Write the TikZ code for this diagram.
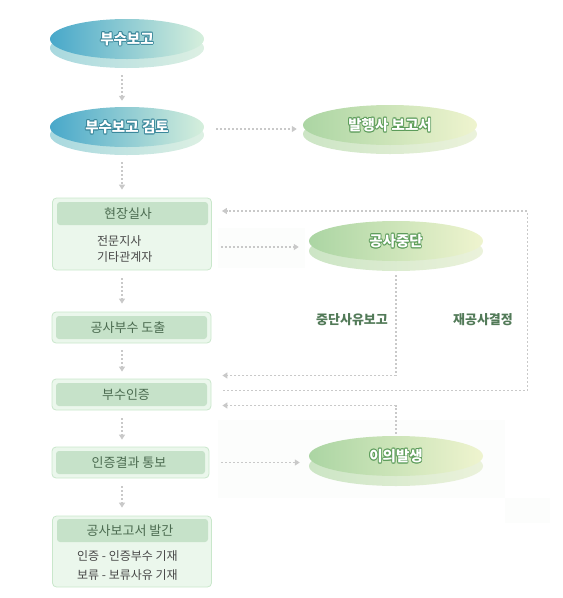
\documentclass[tikz,border=0pt]{standalone}
\usepackage{fontspec}
\setmainfont{Noto Sans CJK KR}
\usetikzlibrary{shapes.geometric,arrows.meta,calc}
\definecolor{tealA}{HTML}{48A8CA}
\definecolor{tealB}{HTML}{D6EFDC}
\definecolor{tealshA}{HTML}{A8D8DF}
\definecolor{tealshB}{HTML}{DDF0E3}
\definecolor{tealout}{HTML}{3A879B}
\definecolor{grnA}{HTML}{ABD5A3}
\definecolor{grnB}{HTML}{EFF4CF}
\definecolor{grnshA}{HTML}{CCE5C5}
\definecolor{grnshB}{HTML}{EBF2DB}
\definecolor{grnout}{HTML}{5C9C5A}
\definecolor{boxfill}{HTML}{EBF7EC}
\definecolor{boxdraw}{HTML}{C9E7CB}
\definecolor{hdrfill}{HTML}{C6E2C9}
\definecolor{hdrtext}{HTML}{4B6B50}
\definecolor{bodytext}{HTML}{484848}
\definecolor{arrowc}{HTML}{C9C9C9}
\definecolor{lbl}{HTML}{527A58}
\definecolor{faint}{HTML}{FCFDFC}
\newcommand\oshift[2]{\rlap{\kern#1\raisebox{#2}{\textcolor{\ocol}{\copy0}}}}
\newcommand\otxt[2]{{\def\ocol{#1}\setbox0=\hbox{#2}%
 \oshift{0.9pt}{0pt}\oshift{-0.9pt}{0pt}\oshift{0pt}{0.9pt}\oshift{0pt}{-0.9pt}%
 \oshift{0.65pt}{0.65pt}\oshift{-0.65pt}{0.65pt}\oshift{0.65pt}{-0.65pt}\oshift{-0.65pt}{-0.65pt}%
 \textcolor{white}{\copy0}}}
\tikzset{
  ell/.style={ellipse, inner sep=0pt, minimum width=#1, minimum height=40pt},
  ell/.default=154pt,
  tealtop/.style={ell, left color=tealA, right color=tealB, font=\bfseries\fontsize{14.5}{16}\selectfont},
  tealsh/.style={ell, left color=tealshA, right color=tealshB},
  grntop/.style={ell=174pt, left color=grnA, right color=grnB, font=\bfseries\fontsize{14.5}{16}\selectfont},
  grnsh/.style={ell=174pt, left color=grnshA, right color=grnshB},
  box/.style={draw=boxdraw, fill=boxfill, rounded corners=4pt, line width=0.8pt, minimum width=159pt, inner sep=0pt},
  hdr/.style={fill=hdrfill, rounded corners=3pt, minimum height=23pt, minimum width=151pt, inner sep=0pt, text=hdrtext, font=\fontsize{13}{15}\selectfont},
  bodytxt/.style={text=bodytext, font=\fontsize{12}{16}\selectfont, align=left, inner sep=0pt},
  lbltxt/.style={text=lbl, font=\bfseries\fontsize{13}{15}\selectfont, inner sep=0pt},
  flow/.style={draw=arrowc, line width=1.6pt, dash pattern=on 2pt off 2pt, -{Triangle[width=6pt,length=5pt]}}
}
\begin{document}
\begin{tikzpicture}[x=1pt,y=-1pt]
\useasboundingbox (0,0) rectangle (563,598);
% faint background patches
\fill[faint] (218,228) rectangle (305,268);
\fill[faint] (218,420) rectangle (505,498);
\fill[faint] (505,498) rectangle (550,523);
% ellipses
\node[tealsh] (e1sh) at (127,48) {};
\node[tealtop] (e1) at (127,39) {\otxt{tealout}{부수보고}};
\node[tealsh] (e2sh) at (127,135) {};
\node[tealtop] (e2) at (127,127) {\otxt{tealout}{부수보고 검토}};
\node[grnsh] (e3sh) at (390,134) {};
\node[grntop] (e3) at (390,125) {\otxt{grnout}{발행사 보고서}};
\node[grnsh] (e4sh) at (396,251) {};
\node[grntop] (e4) at (396,241) {\otxt{grnout}{공사중단}};
\node[grnsh] (e5sh) at (396,466) {};
\node[grntop] (e5) at (396,456) {\otxt{grnout}{이의발생}};
% boxes
\node[box, minimum height=72pt] (b1) at (132,234) {};
\node[hdr] (h1) at (132.5,213.5) {\kern-9pt 현장실사};
\node[bodytxt, anchor=north west] (t1) at (97,235) {전문지사\\기타관계자};
\node[box, minimum height=31pt] (b2) at (131.5,327.5) {};
\node[hdr] (h2) at (131.5,327.5) {\kern-7pt 공사부수 도출};
\node[box, minimum height=31pt] (b3) at (131.5,394.5) {};
\node[hdr] (h3) at (131.5,394.5) {\kern-11pt 부수인증};
\node[box, minimum height=31pt, minimum width=157pt] (b4) at (130.5,462.5) {};
\node[hdr, minimum width=149pt] (h4) at (130.5,462.5) {\kern-3pt 인증결과 통보};
\node[box, minimum height=71pt] (b5) at (132,551.5) {};
\node[hdr] (h5) at (132.5,530.5) {\kern-5pt 공사보고서 발간};
\node[bodytxt, anchor=north west, font=\fontsize{12}{19}\selectfont] (t5) at (77,550) {인증 - 인증부수 기재\\보류 - 보류사유 기재};
% labels
\node[lbltxt] (l1) at (352,320) {중단사유보고};
\node[lbltxt] (l2) at (483,320) {재공사결정};
% vertical flow
\draw[flow] ($(e1sh.south)+(-5,7)$) -- ($(e2.north)+(-5,-6)$);
\draw[flow] ($(e2sh.south)+(-5,7)$) -- ($(b1.north)+(-10,-8)$);
\draw[flow] ($(b1.south)+(-10,8)$) -- ($(b2.north)+(-9.5,-8)$);
\draw[flow] ($(b2.south)+(-9.5,7)$) -- ($(b3.north)+(-9.5,-7)$);
\draw[flow] ($(b3.south)+(-9.5,8)$) -- ($(b4.north)+(-8.5,-7)$);
\draw[flow] ($(b4.south)+(-8.5,8)$) -- ($(b5.north)+(-10,-8)$);
% horizontal flow
\draw[flow] ($(e2.east)+(12,2)$) -- ($(e3.west)+(-6,4)$);
\draw[flow] ($(b1.east)+(9,13)$) -- ($(e4.west)+(-10,6)$);
\draw[flow] ($(b4.east)+(12,0)$) -- ($(e5.west)+(-9,6.5)$);
% loops
\draw[flow] ($(b3.east)+(12,-4)$) -- ++(304,0) |- ($(b1.east)+(10,-23)$);
\draw[flow] ($(e4sh.south)+(0,4)$) |- ($(b3.east)+(11,-19)$);
\draw[flow] ($(e5.north)+(0,-2)$) |- ($(b3.east)+(11,11)$);
\end{tikzpicture}
\end{document}
